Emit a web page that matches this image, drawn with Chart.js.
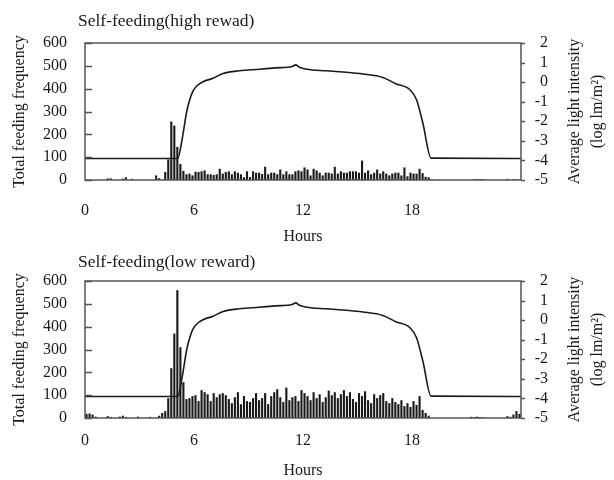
<!DOCTYPE html>
<html>
<head>
<meta charset="utf-8">
<script src="https://cdn.jsdelivr.net/npm/chart.js"></script>
<style>
  body { margin: 0; background: #fff; }
  #wrap { position: relative; width: 614px; height: 480px; overflow: hidden; }
  canvas { position: absolute; left: 0; }
</style>
</head>
<body>
<div id="wrap">
  <canvas id="highChart" width="614" height="250" style="top:0"></canvas>
  <canvas id="lowChart" width="614" height="242" style="top:238px"></canvas>
</div>
<script>
'use strict';

// feeding counts in 10 minute bins, one row per hour
let highReward = [
  0, 0, 0, 0, 0, 0,
  0, 7, 7, 0, 0, 0,
  6, 12, 0, 5, 0, 0,
  0, 0, 0, 0, 0, 20,
  8, 0, 35, 90, 256, 238,
  145, 70, 40, 25, 28, 20,
  36, 35, 38, 42, 25, 25,
  22, 25, 49, 28, 35, 38,
  25, 38, 32, 25, 12, 38,
  13, 38, 32, 32, 26, 58,
  25, 32, 32, 25, 46, 25,
  38, 25, 25, 38, 42, 38,
  55, 46, 20, 49, 42, 32,
  20, 32, 32, 28, 58, 28,
  38, 32, 32, 38, 38, 38,
  32, 85, 32, 42, 25, 32,
  46, 28, 38, 28, 20, 28,
  32, 32, 20, 55, 16, 32,
  28, 28, 49, 30, 14, 12,
  4, 0, 0, 0, 0, 0,
  0, 0, 0, 0, 0, 0,
  0, 0, 4, 4, 4, 4,
  0, 0, 0, 0, 0, 0,
  0, 5, 0, 3, 3, 0,
];

let lowReward = [
  18, 20, 15, 6, 0, 0,
  0, 8, 5, 0, 0, 6,
  10, 5, 0, 0, 0, 6,
  0, 0, 0, 5, 0, 0,
  10, 22, 30, 87, 218, 370,
  560, 310, 157, 83, 87, 96,
  100, 74, 122, 113, 104, 74,
  109, 91, 104, 109, 100, 83,
  65, 91, 113, 60, 96, 74,
  70, 87, 109, 78, 87, 109,
  61, 96, 113, 126, 91, 70,
  133, 78, 91, 96, 74, 122,
  109, 96, 78, 113, 87, 104,
  70, 91, 120, 100, 113, 87,
  104, 122, 96, 113, 83, 70,
  109, 96, 117, 78, 65, 104,
  87, 100, 109, 74, 65, 87,
  70, 61, 78, 52, 65, 48,
  74, 57, 96, 35, 22, 10,
  0, 0, 0, 0, 0, 0,
  0, 0, 0, 0, 0, 0,
  0, 5, 4, 6, 4, 3,
  0, 0, 0, 0, 0, 0,
  0, 8, 5, 15, 30, 18,
];

// light curve (hour, log lm/m2)
let lightHours = [0, 5.1, 5.35, 5.6, 5.8, 5.95, 6.15, 6.5, 7.05, 7.6, 8.5, 9.6, 10.5, 11.4, 11.6, 11.8, 12.2, 13.3, 14.2, 15.3, 16.4, 17.1, 17.9, 18.25, 18.6, 19.05, 24];
let lightLevel = [-3.9, -3.9, -2.9, -1.5, -0.8, -0.45, -0.2, 0.02, 0.2, 0.44, 0.58, 0.66, 0.73, 0.8, 0.88, 0.76, 0.66, 0.58, 0.52, 0.42, 0.24, -0.08, -0.4, -0.9, -2.1, -3.88, -3.9];

let hourTicks = [0, 6, 12, 18];
let countTicks = [0, 100, 200, 300, 400, 500, 600];
let lightTicks = [-5, -4, -3, -2, -1, 0, 1, 2];

const ink = '#1a1a1a';
const serif = '"Liberation Serif", "Times New Roman", serif';
const binsPerHour = 6;

Chart.defaults.font.family = serif;
Chart.defaults.color = ink;

function binPoints(counts) {
  let points = [];
  for (let i = 0; i < counts.length; i++) {
    points.push({ x: (i + 0.5) / binsPerHour, y: counts[i] });
  }
  return points;
}

function lightPoints() {
  let points = [];
  for (let i = 0; i < lightHours.length; i++) {
    points.push({ x: lightHours[i], y: lightLevel[i] });
  }
  return points;
}

function rotatedText(ctx, text, x, y) {
  ctx.save();
  ctx.translate(x, y);
  ctx.rotate(-Math.PI / 2);
  ctx.fillText(text, 0, 0);
  ctx.restore();
}

// box, inward/outward ticks and all the labels around the plot
const panelDecor = {
  id: 'panelDecor',
  afterDraw(chart, args, opts) {
    const ctx = chart.ctx;
    const a = chart.chartArea;
    const yLeft = chart.scales.y;
    const yRight = chart.scales.y2;
    ctx.save();
    ctx.strokeStyle = '#555';
    ctx.lineWidth = 1.5;
    ctx.strokeRect(a.left, a.top, a.right - a.left, a.bottom - a.top);
    ctx.beginPath();
    countTicks.forEach(v => {
      let y = Math.round(yLeft.getPixelForValue(v)) + 0.5;
      ctx.moveTo(a.left, y);
      ctx.lineTo(a.left + 7, y);
    });
    lightTicks.forEach(v => {
      let y = Math.round(yRight.getPixelForValue(v)) + 0.5;
      ctx.moveTo(a.right, y);
      ctx.lineTo(a.right + 4, y);
    });
    ctx.stroke();

    ctx.fillStyle = ink;
    ctx.font = '17.5px ' + serif;
    ctx.textAlign = 'left';
    ctx.textBaseline = 'alphabetic';
    ctx.fillText(opts.title, 78, opts.titleY);

    ctx.font = '16px ' + serif;
    ctx.textAlign = 'center';
    ctx.textBaseline = 'middle';
    ctx.fillText('Hours', (a.left + a.right) / 2, opts.hoursY);
    let midY = (a.top + a.bottom) / 2;
    rotatedText(ctx, 'Total feeding frequency', 20, midY);
    rotatedText(ctx, 'Average light intensity', 575, midY);
    rotatedText(ctx, '(log lm/m\u00b2)', 598, midY);
    ctx.restore();
  },
};

function makePanel(canvasId, title, counts, titleY, tickPad, hoursY) {
  let canvas = document.getElementById(canvasId);
  let axisHeight = canvas.height - 180;
  return new Chart(canvas.getContext('2d'), {
    type: 'bar',
    data: {
      datasets: [
        {
          type: 'line',
          data: lightPoints(),
          yAxisID: 'y2',
          borderColor: ink,
          borderWidth: 1.6,
          pointRadius: 0,
          cubicInterpolationMode: 'monotone',
          order: 0,
        },
        {
          data: binPoints(counts),
          yAxisID: 'y',
          backgroundColor: ink,
          barPercentage: 0.7,
          categoryPercentage: 1,
          order: 1,
        },
      ],
    },
    options: {
      responsive: false,
      animation: false,
      layout: { padding: { top: 43, right: 66, bottom: 0, left: 0 } },
      plugins: {
        legend: { display: false },
        tooltip: { enabled: false },
        panelDecor: { title: title, titleY: titleY, hoursY: hoursY },
      },
      scales: {
        x: {
          type: 'linear',
          min: 0,
          max: 24,
          offset: false,
          grid: { display: false, drawTicks: false },
          border: { display: false },
          afterBuildTicks: s => { s.ticks = hourTicks.map(v => ({ value: v })); },
          afterFit: s => { s.height = axisHeight; },
          ticks: { padding: tickPad, autoSkip: false, font: { size: 16 }, maxRotation: 0 },
        },
        y: {
          position: 'left',
          min: 0,
          max: 600,
          grid: { display: false, drawTicks: false },
          border: { display: false },
          afterBuildTicks: s => { s.ticks = countTicks.map(v => ({ value: v })); },
          afterFit: s => { s.width = 85; },
          ticks: { padding: 18, autoSkip: false, font: { size: 16 } },
        },
        y2: {
          position: 'right',
          min: -5,
          max: 2,
          grid: { display: false, drawTicks: false },
          border: { display: false },
          afterBuildTicks: s => { s.ticks = lightTicks.map(v => ({ value: v })); },
          afterFit: s => { s.width = 27; },
          ticks: { crossAlign: 'far', autoSkip: false, font: { size: 16 } },
        },
      },
    },
    plugins: [panelDecor],
  });
}

makePanel('highChart', 'Self-feeding(high rewad)', highReward, 26, 21, 237);
makePanel('lowChart', 'Self-feeding(low reward)', lowReward, 29, 13, 233);
</script>
</body>
</html>
